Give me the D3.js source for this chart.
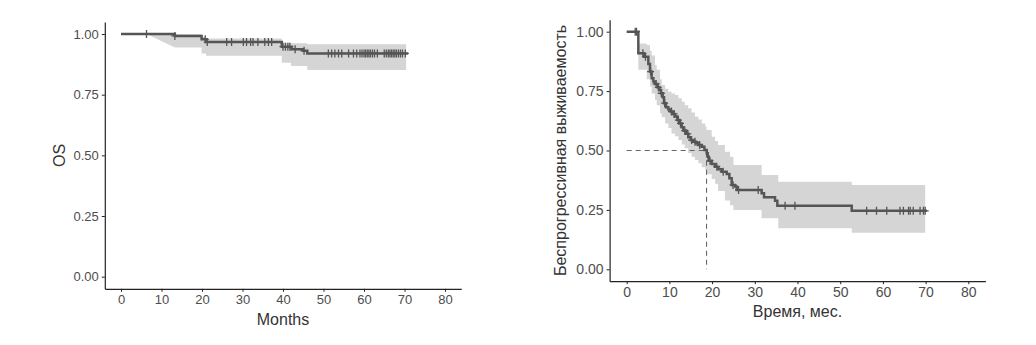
<!DOCTYPE html>
<html>
<head>
<meta charset="utf-8">
<script src="https://cdn.jsdelivr.net/npm/d3@7"></script>
<style>
  body { margin: 0; background: #fff; }
  text { font-family: "Liberation Sans", Arial, sans-serif; }
  .axis path, .axis line { stroke: #222; }
  .axis text { fill: #4d4d4d; }
</style>
</head>
<body>
<svg id="chart" width="1036" height="345"></svg>
<script>
// left panel: overall survival
const osTime = [0, 13.3, 19.9, 21, 39.7, 42.1, 45, 46];
const osSurv = [1, 0.992, 0.978, 0.967, 0.948, 0.937, 0.931, 0.92];
const osEnd = 70.9;
const osCensor = [6.3, 13.3, 20.8, 21.3, 26.1, 27.3, 30.2, 31, 32, 32.6, 33.8, 35.5, 36.4, 37.2,
  40, 40.6, 41.2, 41.7, 43, 45.2, 51.2, 52, 52.8, 53.7, 54.5, 56.2, 57.4, 58.2, 59, 59.5, 60,
  60.4, 60.8, 61.2, 61.6, 62.1, 62.6, 63.3, 65, 65.5, 66, 66.4, 66.8, 67.2, 67.6, 68, 68.5, 69, 69.5, 70.2];
// band vertices (linear)
const osCiTime = [0, 6.3, 13.3, 19.9, 19.9, 21, 21, 39.7, 39.7, 42, 42, 46, 46, 70.4];
const osCiLow  = [1, 1, 0.944, 0.944, 0.92, 0.92, 0.91, 0.91, 0.882, 0.882, 0.868, 0.868, 0.852, 0.852];
const osCiHigh = [1, 1, 1, 1, 0.99, 0.99, 0.982, 0.982, 0.964, 0.964, 0.962, 0.962, 0.958, 0.958];

// right panel: progression-free survival
const pfsTime = [0, 2.73, 4.06, 5.07, 5.46, 5.85, 6.25, 6.64, 7.18, 7.65, 8.04, 8.43, 8.74, 9.21, 9.76,
  10.3, 10.77, 11.32, 11.87, 12.33, 12.88, 13.27, 13.9, 14.44, 14.99, 15.61, 16.24, 16.78, 17.56, 18.2,
  18.74, 18.97, 19.2, 19.9, 20.69, 21.47, 22.25, 23.42, 24.04, 24.59, 25.37, 25.76, 31.6, 32.16, 34.74, 35.28, 52.7];
const pfsSurv = [1, 0.909, 0.895, 0.864, 0.832, 0.804, 0.79, 0.78, 0.766, 0.755, 0.741, 0.724, 0.699, 0.682, 0.673,
  0.664, 0.654, 0.643, 0.628, 0.614, 0.598, 0.584, 0.57, 0.556, 0.544, 0.537, 0.53, 0.523, 0.516, 0.502,
  0.488, 0.474, 0.457, 0.443, 0.432, 0.421, 0.411, 0.401, 0.383, 0.355, 0.348, 0.334, 0.32, 0.303, 0.289, 0.268, 0.246];
const pfsEnd = 70.3;
const pfsCensor = [2, 2.3, 3.8, 4.4, 5.6, 6.9, 7.4, 8.1, 8.9, 10.5, 11.1, 12.1, 12.6, 13.6, 14.3, 15.2, 16, 17.1,
  19.5, 21.1, 22.6, 24.9, 26.2, 30.8, 37.1, 39.4, 56.2, 58.5, 60.9, 64, 64.8, 66, 66.4, 67.1, 68.7, 69.5, 69.9];
// band (step)
const pfsCiTime = [0, 2.73, 4.7, 5.46, 5.85, 6.64, 7.03, 7.8, 8.2, 9, 9.76, 10.5, 11.3, 12.1, 12.9, 13.6,
  14.4, 15.2, 16, 16.8, 17.6, 18.4, 18.7, 19.9, 20.7, 21.4, 23, 24.2, 25, 31.6, 35.5, 52.7, 69.9];
const pfsCiLow  = [1, 0.84, 0.8, 0.769, 0.74, 0.712, 0.69, 0.657, 0.64, 0.614, 0.595, 0.572, 0.56, 0.544, 0.525, 0.509,
  0.49, 0.474, 0.46, 0.446, 0.43, 0.418, 0.4, 0.38, 0.36, 0.33, 0.29, 0.27, 0.25, 0.215, 0.173, 0.154, 0.154];
const pfsCiHigh = [1, 0.95, 0.944, 0.92, 0.9, 0.86, 0.84, 0.8, 0.776, 0.76, 0.747, 0.74, 0.734, 0.72, 0.705, 0.69,
  0.678, 0.66, 0.642, 0.63, 0.614, 0.6, 0.586, 0.558, 0.54, 0.523, 0.495, 0.474, 0.439, 0.397, 0.369, 0.355, 0.355];
const pfsMedian = 18.7;

const xTicks = [0, 10, 20, 30, 40, 50, 60, 70, 80];
const yTicks = [0, 0.25, 0.5, 0.75, 1];

const lineColor = "#555555";
const bandColor = "#d5d5d5";

const svg = d3.select("#chart");

function panel(cfg) {
  const x = d3.scaleLinear().domain([-4, 84]).range(cfg.xr);
  const y = d3.scaleLinear().domain([-0.05, 1.05]).range(cfg.yr);
  const g = svg.append("g");

  // confidence band
  const band = d3.range(cfg.ciTime.length).map(i => ({ t: cfg.ciTime[i], lo: cfg.ciLow[i], hi: cfg.ciHigh[i] }));
  g.append("path")
    .datum(band)
    .attr("fill", bandColor)
    .attr("d", d3.area().curve(cfg.ciCurve)
      .x(d => x(d.t)).y0(d => y(d.lo)).y1(d => y(d.hi)));

  // median lines
  if (cfg.median != null) {
    g.append("path")
      .attr("fill", "none")
      .attr("stroke", "#666")
      .attr("stroke-width", 1.1)
      .attr("stroke-dasharray", "5,4")
      .attr("d", `M${x(0)},${y(0.5)}H${x(cfg.median)}V${y(0)}`);
  }

  // km curve
  const pts = cfg.time.map((t, i) => ({ t: t, s: cfg.surv[i] }));
  pts.push({ t: cfg.end, s: cfg.surv[cfg.surv.length - 1] });
  g.append("path")
    .datum(pts)
    .attr("fill", "none")
    .attr("stroke", lineColor)
    .attr("stroke-width", 2.5)
    .attr("d", d3.line().curve(d3.curveStepAfter).x(d => x(d.t)).y(d => y(d.s)));

  // censor marks
  const bis = d3.bisector(d => d).right;
  const survAt = t => cfg.surv[Math.max(0, bis(cfg.time, t) - 1)];
  g.selectAll(".cens")
    .data(cfg.censor)
    .enter().append("path")
    .attr("class", "cens")
    .attr("fill", "none")
    .attr("stroke", lineColor)
    .attr("stroke-width", 1.3)
    .attr("d", t => {
      const cx = x(t), cy = y(survAt(t));
      return `M${cx - 3.5},${cy}H${cx + 3.5}M${cx},${cy - 4}V${cy + 4}`;
    });

  // axes
  g.append("g")
    .attr("class", "axis")
    .attr("transform", `translate(0,${cfg.yr[0]})`)
    .style("font-size", cfg.tickFont + "px")
    .call(d3.axisBottom(x).tickValues(xTicks).tickSize(3).tickSizeOuter(0).tickPadding(3));

  g.append("g")
    .attr("class", "axis")
    .attr("transform", `translate(${cfg.xr[0]},0)`)
    .style("font-size", cfg.tickFont + "px")
    .call(d3.axisLeft(y).tickValues(yTicks).tickFormat(d3.format(".2f")).tickSize(3).tickSizeOuter(0).tickPadding(3));

  g.selectAll(".axis .domain").attr("stroke-width", 1.2);
  g.selectAll(".axis text").attr("font-family", "Liberation Sans, Arial, sans-serif");

  // titles
  g.append("text")
    .attr("x", (cfg.xr[0] + cfg.xr[1]) / 2)
    .attr("y", cfg.xTitleY)
    .attr("text-anchor", "middle")
    .attr("font-size", cfg.titleFont)
    .attr("fill", "#333")
    .text(cfg.xTitle);

  g.append("text")
    .attr("transform", `translate(${cfg.yTitleX},${(cfg.yr[0] + cfg.yr[1]) / 2}) rotate(-90)`)
    .attr("text-anchor", "middle")
    .attr("font-size", cfg.titleFont)
    .attr("fill", "#333")
    .text(cfg.yTitle);
}

panel({
  xr: [104.8, 461.2], yr: [288.8, 21.9],
  time: osTime, surv: osSurv, end: osEnd, censor: osCensor,
  ciTime: osCiTime, ciLow: osCiLow, ciHigh: osCiHigh, ciCurve: d3.curveLinear,
  median: null,
  xTitle: "Months", yTitle: "OS",
  tickFont: 13, titleFont: 16, xTitleY: 325, yTitleX: 65
});

panel({
  xr: [609.6, 985.4], yr: [281.2, 19.8],
  time: pfsTime, surv: pfsSurv, end: pfsEnd, censor: pfsCensor,
  ciTime: pfsCiTime, ciLow: pfsCiLow, ciHigh: pfsCiHigh, ciCurve: d3.curveStepAfter,
  median: pfsMedian,
  xTitle: "Время, мес.", yTitle: "Беспрогрессивная выживаемость",
  tickFont: 14, titleFont: 16, xTitleY: 317, yTitleX: 566
});
</script>
</body>
</html>
